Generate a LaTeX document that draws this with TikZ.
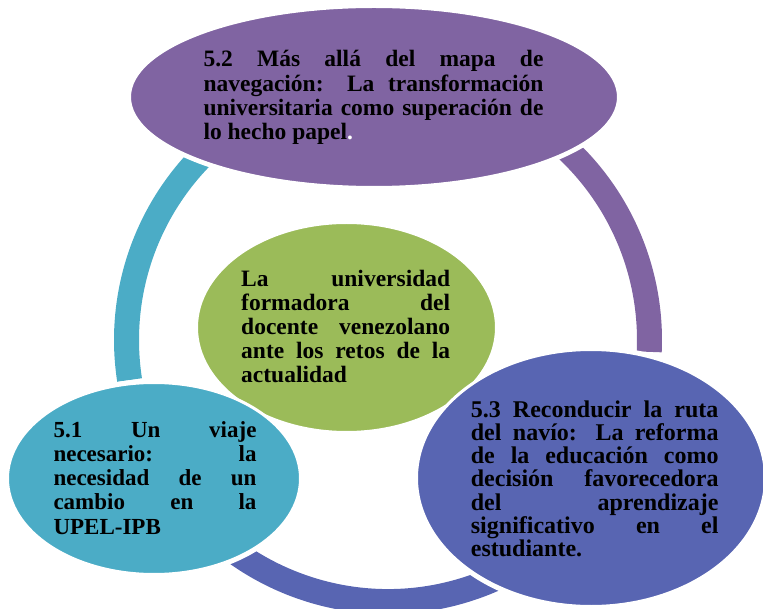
\documentclass[tikz,border=0pt]{standalone}
\usepackage{fontspec}
\setmainfont{Liberation Serif}
\usetikzlibrary{shapes.geometric}
\definecolor{cPurple}{HTML}{8064A2}
\definecolor{cTeal}{HTML}{4BACC6}
\definecolor{cGreen}{HTML}{9BBB59}
\definecolor{cBlue}{HTML}{5865B2}
\newcommand{\jl}[1]{\makebox[\hsize][s]{#1}\par}
\newcommand{\tblk}[4]{\vtop{\hsize=#1pt\parindent=0pt\parskip=0pt\lineskiplimit=-100pt\fontsize{#2}{#3}\selectfont\bfseries #4}}
\begin{document}
\begin{tikzpicture}[x=1pt,y=-1pt,
  ring/.style={line width=25pt},
  bubble/.style={ellipse, draw=white, line width=3pt, inner sep=0pt, outer sep=0pt},
  txt/.style={anchor=base west, inner sep=0pt, text=black}]
\useasboundingbox (0,0) rectangle (763,609);
\coordinate (c) at (388,340);
% ring segments
\draw[ring, cTeal] (c) ++(-125:261.5) arc[start angle=-125, end angle=-188.8, radius=261.5];
\draw[ring, cBlue] (c) ++(-200:261.5) arc[start angle=-200, end angle=-320, radius=261.5];
\draw[ring, cPurple] (c) ++(2.6:261.5) arc[start angle=2.6, end angle=-55, radius=261.5];
% white halos around outer bubbles
\fill[white] (374,97) ellipse [x radius=248, y radius=94];
\fill[white] (154,478.5) ellipse [x radius=150, y radius=99.5];
\fill[white] (591,478) ellipse [x radius=178, y radius=132];
% bubbles
\node[bubble, fill=cGreen, minimum width=300pt, minimum height=210pt] (center) at (346.5,327.5) {};
\node[bubble, fill=cPurple, minimum width=489pt, minimum height=181pt] (n52) at (374,97) {};
\node[bubble, fill=cTeal, minimum width=293pt, minimum height=192pt] (n51) at (154,478.5) {};
\node[bubble, fill=cBlue, minimum width=349pt, minimum height=257pt] (n53) at (591,478) {};
% texts
\node[txt] (t52) at (203.3,66.7) {\tblk{340}{23.5}{24.4}{\jl{5.2 Más allá del mapa de}\jl{navegación: La transformación}\jl{universitaria como superación de}lo hecho papel{\color{white}.}\par}};
\node[txt] (tc) at (241,286.7) {\tblk{209}{23.5}{24}{\jl{La universidad}\jl{formadora del}\jl{docente venezolano}\jl{ante los retos de la}actualidad\par}};
\node[txt] (t51) at (53.3,437.3) {\tblk{203}{23}{24.2}{\jl{5.1 Un viaje}\jl{necesario: la}\jl{necesidad de un}\jl{cambio en la}UPEL-IPB\par}};
\node[txt] (t53) at (470.7,417.3) {\tblk{247.6}{24}{23.2}{\jl{5.3 Reconducir la ruta}\jl{del navío: La reforma}\jl{de la educación como}\jl{decisión favorecedora}\jl{del aprendizaje}\jl{significativo en el}estudiante.\par}};
\end{tikzpicture}
\end{document}
